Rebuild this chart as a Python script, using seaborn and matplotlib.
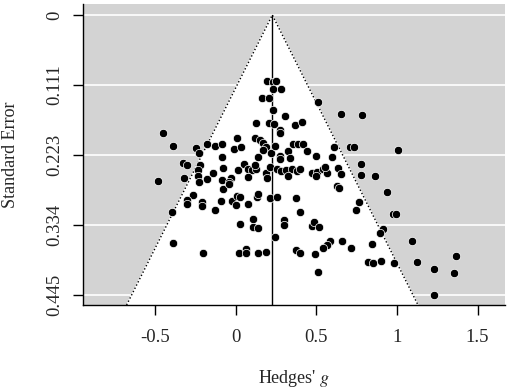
import numpy as np
import pandas as pd
import matplotlib
matplotlib.use("Agg")
import matplotlib.pyplot as plt
import seaborn as sns

# effect sizes (Hedges' g) and their standard errors
hedges_g = [
    0.194, 0.231, 0.250, 0.231, 0.281, 0.163, 0.206, 0.510, 0.231, 0.306,
    0.653, 0.783, 0.126, 0.206, 0.237, 0.368, 0.411, 0.275, 0.275, -0.451,
    -0.389, -0.246, -0.228, -0.178, -0.128, -0.085, -0.085, 0.008, -0.011, 0.033,
    0.120, 0.151, 0.169, 0.188, 0.169, 0.219, 0.244, 0.275, 0.275, 0.324,
    0.355, 0.386, 0.417, 0.442, 0.498, 0.609, 0.709, 0.733, 1.006, 0.597,
    0.138, 0.337, -0.327, -0.302, -0.221, -0.234, -0.234, -0.228, -0.321, -0.482,
    -0.178, -0.141, -0.085, -0.079, -0.029, -0.042, 0.014, 0.051, 0.076, 0.101,
    0.126, 0.076, 0.120, 0.188, 0.194, 0.213, 0.256, 0.281, 0.312, 0.349,
    0.380, 0.399, 0.324, 0.473, 0.504, 0.498, 0.541, 0.566, 0.554, 0.634,
    0.653, 0.777, 0.777, 0.863, 0.628, 0.640, 0.938, -0.265, -0.302, -0.302,
    -0.209, -0.209, -0.128, -0.091, -0.079, -0.042, -0.023, 0.002, 0.008, 0.027,
    0.076, 0.132, 0.138, 0.213, 0.256, 0.374, 0.399, 0.764, 0.746, 0.975,
    0.994, -0.395, 0.027, 0.107, 0.107, 0.138, 0.299, 0.299, 0.473, 0.485,
    0.516, 0.244, 0.913, 0.895, 0.585, 0.566, 0.659, 0.845, 1.093, -0.389,
    -0.203, 0.020, 0.064, 0.064, 0.138, 0.188, 0.374, 0.399, 0.492, 0.541,
    0.715, 0.510, 0.820, 0.851, 0.901, 0.981, 1.124, 1.229, 1.366, 1.353,
    1.229,
]
std_err = [
    0.105, 0.106, 0.105, 0.118, 0.118, 0.132, 0.132, 0.138, 0.151, 0.161,
    0.157, 0.159, 0.172, 0.172, 0.173, 0.175, 0.170, 0.183, 0.188, 0.188,
    0.208, 0.211, 0.219, 0.205, 0.208, 0.205, 0.226, 0.195, 0.213, 0.210,
    0.195, 0.199, 0.203, 0.210, 0.215, 0.219, 0.208, 0.224, 0.229, 0.216,
    0.205, 0.205, 0.205, 0.216, 0.224, 0.210, 0.210, 0.210, 0.215, 0.226,
    0.226, 0.227, 0.235, 0.238, 0.238, 0.246, 0.256, 0.265, 0.259, 0.264,
    0.261, 0.251, 0.262, 0.243, 0.259, 0.265, 0.246, 0.237, 0.245, 0.246,
    0.245, 0.257, 0.238, 0.251, 0.259, 0.242, 0.245, 0.248, 0.246, 0.245,
    0.248, 0.245, 0.256, 0.251, 0.250, 0.256, 0.245, 0.251, 0.242, 0.243,
    0.253, 0.237, 0.254, 0.256, 0.272, 0.275, 0.281, 0.286, 0.294, 0.300,
    0.297, 0.304, 0.310, 0.296, 0.277, 0.269, 0.296, 0.302, 0.288, 0.289,
    0.300, 0.289, 0.284, 0.291, 0.289, 0.291, 0.313, 0.297, 0.310, 0.316,
    0.316, 0.313, 0.332, 0.324, 0.337, 0.339, 0.326, 0.334, 0.335, 0.329,
    0.337, 0.353, 0.340, 0.346, 0.359, 0.366, 0.359, 0.364, 0.359, 0.362,
    0.378, 0.378, 0.372, 0.378, 0.378, 0.377, 0.373, 0.378, 0.380, 0.370,
    0.370, 0.408, 0.393, 0.394, 0.391, 0.394, 0.393, 0.404, 0.383, 0.410,
    0.445,
]
pooled = 0.227
y_ticks = [0, 0.111, 0.223, 0.334, 0.445]
y_labels = ["0", "0.111", "0.223", "0.334", "0.445"]
x_ticks = [-0.5, 0, 0.5, 1, 1.5]
x_labels = ["-0.5", "0", "0.5", "1", "1.5"]

df = pd.DataFrame({"g": hedges_g, "se": std_err})

sns.set_style("white")
plt.rcParams["font.family"] = ["Liberation Serif", "DejaVu Serif"]
plt.rcParams["mathtext.fontset"] = "stix"

fig = plt.figure(figsize=(5.1, 3.92), dpi=100)
ax = fig.add_axes([0.1627, 0.2219, 0.8275, 0.7679])
ax.set_facecolor("#D3D3D3")

se_bottom = 0.461
xlo, xhi = -0.947, 1.67

# white grid lines on the grey background
for t in y_ticks:
    ax.axhline(t, color="white", lw=1.2, zorder=0.5)

# pseudo confidence region
left = pooled - 1.96 * se_bottom
right = pooled + 1.96 * se_bottom
ax.fill([left, pooled, right], [se_bottom, 0, se_bottom], color="white", zorder=1)
ax.plot([left, pooled, right], [se_bottom, 0, se_bottom], color="black",
        ls=(0, (1, 1.6)), lw=1.0, zorder=2)
ax.plot([pooled, pooled], [0, se_bottom], color="black", lw=1.0, zorder=2)

sns.scatterplot(data=df, x="g", y="se", color="black", s=36,
                edgecolor="white", linewidth=0.5, zorder=3, ax=ax, legend=False)

ax.set_xlim(xlo, xhi)
ax.set_ylim(se_bottom, -0.0175)
ax.set_yticks(y_ticks)
ax.set_yticklabels(y_labels, rotation=90, va="center")
ax.set_xticks(x_ticks)
ax.set_xticklabels(x_labels)
ax.tick_params(axis="both", length=7, width=1, color="black", labelsize=13.5,
               direction="out", left=True, bottom=True)
ax.tick_params(axis="y", pad=7)
ax.tick_params(axis="x", pad=10)

for side in ["top", "right"]:
    ax.spines[side].set_visible(False)
for side in ["left", "bottom"]:
    ax.spines[side].set_color("black")
    ax.spines[side].set_linewidth(1)

ax.set_xlabel("Hedges' $g$", fontsize=13, labelpad=16)
ax.set_ylabel("Standard Error", fontsize=13, labelpad=20)

fig.savefig("out.png", dpi=100)
